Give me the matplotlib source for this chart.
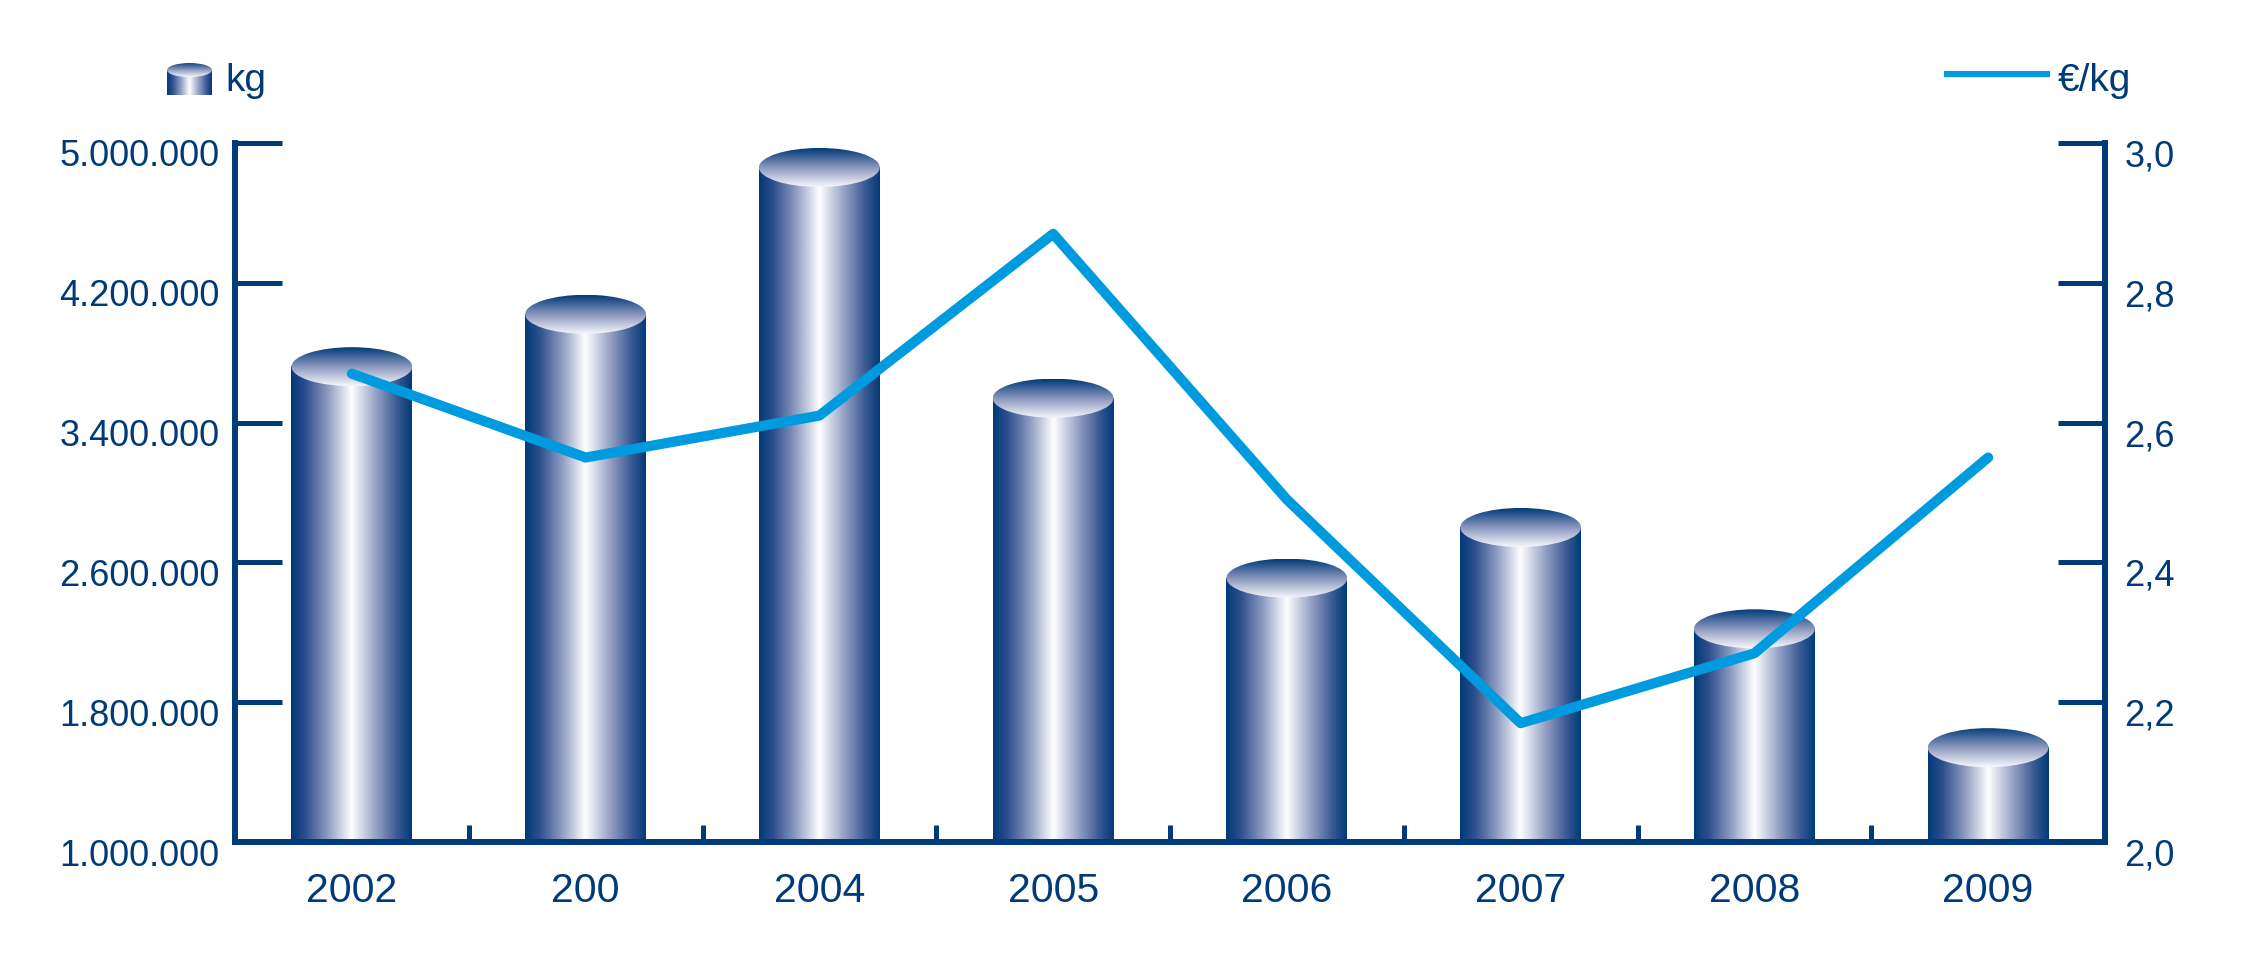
import numpy as np
import matplotlib
matplotlib.use("Agg")
import matplotlib.pyplot as plt
from matplotlib.colors import LinearSegmentedColormap
from matplotlib.patches import Ellipse
from matplotlib.lines import Line2D
import matplotlib.transforms as mtransforms

# ---------------- data ----------------
years = ["2002", "200", "2004", "2005", "2006", "2007", "2008", "2009"]
kg_values = [3720000, 4020000, 4860000, 3540000, 2510000, 2800000, 2220000, 1540000]
eur_per_kg = [2.67, 2.55, 2.61, 2.87, 2.49, 2.17, 2.27, 2.55]
left_ticks = [1000000, 1800000, 2600000, 3400000, 4200000, 5000000]
left_labels = ["1.000.000", "1.800.000", "2.600.000", "3.400.000", "4.200.000", "5.000.000"]
right_ticks = [2.0, 2.2, 2.4, 2.6, 2.8, 3.0]
right_labels = ["2,0", "2,2", "2,4", "2,6", "2,8", "3,0"]
legend_bar = "kg"
legend_line = "€/kg"

# ---------------- style ----------------
NAVY = "#003A78"
CYAN = "#009BDE"
plt.rcParams["font.family"] = ["Liberation Sans", "DejaVu Sans"]

body_cmap = LinearSegmentedColormap.from_list(
    "body", [(0.0, "#003A78"), (0.12, "#2D4F8C"), (0.3, "#8C99C0"),
             (0.5, "#FFFFFF"), (0.7, "#98A3C6"), (0.88, "#3A5A93"), (1.0, "#003A78")])
top_cmap = LinearSegmentedColormap.from_list(
    "top", [(0.0, "#003A78"), (0.5, "#8A97BE"), (1.0, "#F7F8FC")])

W, H = 2250, 960
fig = plt.figure(figsize=(W / 100, H / 100), dpi=100)
L, R, T, B = 235, 2105, 143, 842
ax = fig.add_axes([L / W, 1 - B / H, (R - L) / W, (B - T) / H])
ax2 = ax.twinx()

ymin, ymax = 1000000, 5000000
x = np.arange(len(years))
bar_w = 0.517
ell_h = 39 / (B - T) * (ymax - ymin)

grad_h = np.linspace(0, 1, 256).reshape(1, -1)
grad_v = np.linspace(0, 1, 256).reshape(-1, 1)

for xi, v in zip(x, kg_values):
    ax.imshow(grad_h, cmap=body_cmap, extent=[xi - bar_w / 2, xi + bar_w / 2, ymin, v],
              aspect="auto", interpolation="bicubic", zorder=2)
    e = Ellipse((xi, v), bar_w, ell_h, facecolor="none", edgecolor="none")
    ax.add_patch(e)
    im = ax.imshow(grad_v, cmap=top_cmap, origin="upper",
                   extent=[xi - bar_w / 2, xi + bar_w / 2, v - ell_h / 2, v + ell_h / 2],
                   aspect="auto", interpolation="bicubic", zorder=3)
    im.set_clip_path(e)

ax.set_xlim(-0.5, len(years) - 0.5)
ax.set_ylim(ymin, ymax)
ax2.set_ylim(2.0, 3.0)

line, = ax2.plot(x, eur_per_kg, color=CYAN, lw=7.3, solid_capstyle="round",
                 solid_joinstyle="round", zorder=5)

# spines
for a in (ax, ax2):
    a.spines["top"].set_visible(False)
ax.spines["right"].set_visible(False)
ax2.spines["left"].set_visible(False)
ax2.spines["bottom"].set_visible(False)
for sp in ("left", "bottom"):
    ax.spines[sp].set_color(NAVY)
    ax.spines[sp].set_linewidth(4.3)
    ax.spines[sp].set_zorder(6)
ax2.spines["right"].set_color(NAVY)
ax2.spines["right"].set_linewidth(4.3)

# y ticks
ax.set_yticks(left_ticks)
ax.set_yticklabels(left_labels)
ax.tick_params(axis="y", direction="in", length=34, width=3.6, color=NAVY,
               labelcolor=NAVY, labelsize=26, pad=11)
ax2.set_yticks(right_ticks)
ax2.set_yticklabels(right_labels)
ax2.tick_params(axis="y", direction="in", length=34, width=3.6, color=NAVY,
                labelcolor=NAVY, labelsize=26, pad=14)

offset = mtransforms.ScaledTranslation(0, -10 / 100, fig.dpi_scale_trans)
for lab in ax.get_yticklabels() + ax2.get_yticklabels():
    lab.set_transform(lab.get_transform() + offset)

# x ticks: labels at centers, small marks at boundaries
ax.set_xticks(x)
ax.set_xticklabels(years)
ax.tick_params(axis="x", length=0, labelcolor=NAVY, labelsize=29.5, pad=21.5)
ax.set_xticks(np.arange(0.5, len(years) - 1, 1.0), minor=True)
ax.tick_params(axis="x", which="minor", direction="in", length=12, width=3.6, color=NAVY)

# ---------------- legend ----------------
icon = fig.add_axes([167 / W, 1 - 95 / H, 45 / W, 32 / H])
icon.set_xlim(0, 1)
icon.set_ylim(0, 1)
icon.axis("off")
icon.imshow(grad_h, cmap=body_cmap, extent=[0, 1, 0, 0.78], aspect="auto",
            interpolation="bicubic")
ie = Ellipse((0.5, 0.78), 1.0, 0.44, facecolor="none", edgecolor="none")
icon.add_patch(ie)
iim = icon.imshow(grad_v, cmap=top_cmap, origin="upper", extent=[0, 1, 0.56, 1.0],
                  aspect="auto", interpolation="bicubic")
iim.set_clip_path(ie)
icon.set_xlim(0, 1)
icon.set_ylim(0, 1)

fig.text(225 / W, 1 - 91 / H, legend_bar, color=NAVY, fontsize=28, va="baseline", ha="left")
fig.add_artist(Line2D([1947 / W, 2047 / W], [1 - 74 / H, 1 - 74 / H], color=CYAN, lw=4.4,
                      transform=fig.transFigure))
fig.text(2058 / W, 1 - 91 / H, legend_line, color=NAVY, fontsize=28, va="baseline", ha="left")

fig.savefig("out.png", dpi=100, facecolor="white")
